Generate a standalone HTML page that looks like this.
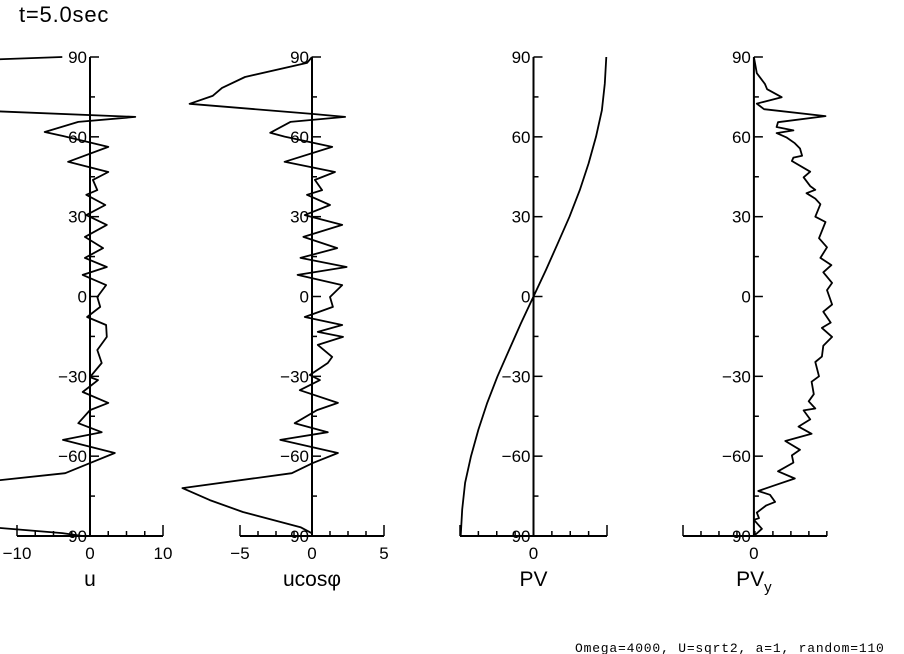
<!DOCTYPE html>
<html><head><meta charset="utf-8"><style>
html,body{margin:0;padding:0;background:#fff;}
svg{display:block;font-family:"Liberation Sans",sans-serif;}
</style></head><body>
<svg id="chart" width="904" height="654" viewBox="0 0 904 654" xmlns="http://www.w3.org/2000/svg">
<text x="19" y="22" font-size="22" letter-spacing="0.8">t=5.0sec</text>
<text x="575" y="652" font-size="13" font-family="Liberation Mono, monospace" letter-spacing="0.8">Omega=4000, U=sqrt2, a=1, random=110</text>
<g id="g"></g>
</svg>
<script>
const latTicks=[90,60,30,0,-30,-60,-90];
const uLat=[90,88.4,70.4,67.5,65.6,61.8,60.3,56.2,50.6,46.8,43.8,40,38.2,34.4,30.6,26.9,22.4,18.2,14.5,11.1,8.1,4.3,-0.2,-3.9,-7.7,-10.7,-15.2,-20.1,-25,-30.3,-31.4,-35.9,-40,-42.7,-47.6,-51,-53.9,-58.8,-62.6,-66.4,-69,-69.3,-85.3,-87,-88.9,-90];
const uVal=[-3.8,-20,-20,6.2,-1.6,-6.2,-3.7,2.5,-3,2.5,0.4,1,-0.5,2.1,-0.5,2.3,-0.7,1.8,-0.7,2.3,-1,2.2,1,1.4,-0.4,2.2,2.3,1,1.6,0,1.1,-1,2.5,0,-1.6,1.6,-3.7,3.4,0,-3.4,-12.3,-20,-20,-12.3,-3.8,-1];
const ucLat=[90,87.8,82.5,78.4,75.4,72.4,68.6,67.5,65.6,61.5,60.1,56.2,50.6,46.8,43.8,40,38.2,34.4,30.6,26.9,22.4,18.2,14.5,11.1,8.1,4.3,-0.2,-3.9,-7.7,-10.7,-13.3,-15.2,-18.2,-22.7,-25,-29.5,-31.4,-35.2,-40,-42.7,-47.6,-51,-53.9,-58.8,-62.6,-66.4,-72,-76.5,-81,-86.7,-89];
const ucVal=[0,-0.35,-4.65,-6.25,-6.9,-8.5,0,2.3,-1.5,-2.9,-1.9,1.4,-1.9,1.6,0.2,0.7,-0.35,1.25,-0.5,2.1,-0.6,1.75,-0.8,2.4,-1,2.1,1.25,1.45,-0.5,2.1,0.4,2.15,0.4,1.4,1.1,-0.15,0.55,-0.85,1.8,0.35,-1.2,1.1,-2.2,1.8,0.05,-1.4,-9,-7.1,-4.8,-0.8,0];
const pvLat=[90,80,70,60,50,40,30,20,10,0,-10,-20,-30,-40,-50,-60,-70,-80,-90];
const pvVal=[0.99,0.97,0.93,0.85,0.75,0.63,0.49,0.33,0.17,0,-0.17,-0.33,-0.49,-0.63,-0.75,-0.85,-0.93,-0.97,-0.99];
const pvyLat=[90,83.9,79.9,77.9,74.9,72.5,70.4,67.8,65.5,63.7,62.4,61.4,59.7,57.6,55.6,52.9,52.2,50.9,46.9,44.8,41.5,40.1,38.8,36.8,34.7,30,28,21.9,18.5,14.5,11.8,9.1,5.1,2.4,-3,-5.7,-9.8,-11.8,-15.2,-18.5,-22.6,-24.6,-30,-32,-36.7,-39.4,-42.1,-42.8,-46.2,-48.9,-51.6,-54.3,-57.6,-59.7,-62.4,-65.7,-68.4,-71.1,-73.1,-74.5,-77.2,-78.5,-81.2,-83.3,-83.9,-87.3,-90];
const pvyVal=[0,0.04,0.15,0.18,0.38,0.04,0.14,0.98,0.33,0.31,0.54,0.31,0.45,0.56,0.63,0.66,0.54,0.52,0.77,0.68,0.77,0.84,0.72,0.84,0.91,0.84,0.98,0.89,1.0,0.91,1.06,0.95,1.07,1.0,1.07,0.95,1.05,0.93,1.07,0.95,0.93,0.84,0.89,0.79,0.82,0.75,0.84,0.68,0.77,0.61,0.79,0.43,0.63,0.52,0.54,0.33,0.56,0.27,0.06,0.22,0.29,0.17,0.04,0.07,0,0.11,0];

const NS="http://www.w3.org/2000/svg";
const G=document.getElementById('g');
const yTop=57,yBot=536;
function yS(l){return yTop+(90-l)/180*(yBot-yTop);}
function mk(tag,attrs,parent){const e=document.createElementNS(NS,tag);for(const k in attrs)e.setAttribute(k,attrs[k]);(parent||G).appendChild(e);return e;}

function panel(key,x0,x1,xmin,xmax,step,tickLabels,xLabel,lats,vals,sub){
  const g=mk('g',{});
  
  
  const xS=v=>x0+(v-xmin)/(xmax-xmin)*(x1-x0);
  const ax=xS(0);
  const ya=mk('line',{x1:ax,y1:yTop,x2:ax,y2:yBot,stroke:'#000','stroke-width':2},g);
  
  
  for(let l=90;l>=-90;l-=15){
    const major=l%30===0;
    mk('line',{x1:ax,y1:yS(l),x2:ax+(major?9:5),y2:yS(l),stroke:'#000','stroke-width':1.5},g);
  }
  for(const l of latTicks){
    const t=mk('text',{x:ax-3,y:yS(l)+6,'font-size':17,'text-anchor':'end'},g);
    t.textContent=(l<0?'\u2212'+(-l):l);
    
    
  }
  const xa=mk('line',{x1:x0,y1:yBot,x2:x1,y2:yBot,stroke:'#000','stroke-width':2},g);
  
  
  for(let v=xmin;v<=xmax+1e-9;v+=step){
    const end=Math.abs(v-xmin)<1e-9||Math.abs(v-xmax)<1e-9;
    mk('line',{x1:xS(v),y1:yBot,x2:xS(v),y2:yBot-(end?11:5),stroke:'#000','stroke-width':1.5},g);
  }
  for(const [v,s] of tickLabels){
    const t=mk('text',{x:xS(v),y:yBot+23,'font-size':17,'text-anchor':'middle'},g);
    t.textContent=s;
    
    
  }
  const lb=mk('text',{x:ax,y:586,'font-size':21,'text-anchor':'middle'},g);
  
  
  if(sub){lb.innerHTML=xLabel+'<tspan font-size="15" dy="6">'+sub+'</tspan>';}else lb.textContent=xLabel;
  const pts=lats.map((l,i)=>xS(vals[i]).toFixed(1)+','+yS(l).toFixed(1)).join(' ');
  const pl=mk('polyline',{points:pts,fill:'none',stroke:'#000','stroke-width':1.8,'stroke-linejoin':'round'},g);
  
  
}
panel('u',17,163,-10,10,2.5,[[-10,'\u221210'],[0,'0'],[10,'10']],'u',uLat,uVal);
panel('ucos',240,384,-5,5,1.25,[[-5,'\u22125'],[0,'0'],[5,'5']],'ucos\u03C6',ucLat,ucVal);
panel('pv',460,607,-1,1,0.25,[[0,'0']],'PV',pvLat,pvVal);
panel('pvy',683,827,-0.97,1,0.246,[[0,'0']],'PV',pvyLat,pvyVal,'y');
</script>
</body></html>
